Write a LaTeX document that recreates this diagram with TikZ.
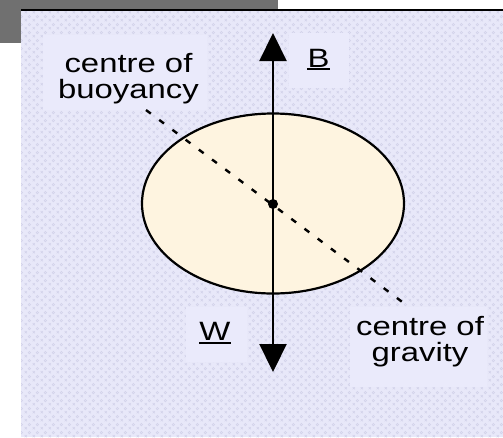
\documentclass[tikz,border=0pt]{standalone}
\usepackage{fontspec}
\setmainfont{Liberation Sans}
\usetikzlibrary{arrows.meta,shapes.geometric,patterns}
\definecolor{barGray}{HTML}{707070}
\definecolor{panelBg}{HTML}{E8E8F9}
\definecolor{panelMark}{HTML}{D3D3EA}
\definecolor{boxBg}{HTML}{EAEAFB}
\definecolor{bodyFill}{HTML}{FEF4E0}
\pgfdeclarepatternformonly{xdiamonds}{\pgfqpoint{0pt}{0pt}}{\pgfqpoint{8pt}{8pt}}{\pgfqpoint{8pt}{8pt}}{%
  \pgfsetlinewidth{0.7pt}%
  \pgfpathmoveto{\pgfqpoint{0.8pt}{0.8pt}}\pgfpathlineto{\pgfqpoint{3.2pt}{3.2pt}}%
  \pgfpathmoveto{\pgfqpoint{0.8pt}{3.2pt}}\pgfpathlineto{\pgfqpoint{3.2pt}{0.8pt}}%
  \pgfpathmoveto{\pgfqpoint{6pt}{4.6pt}}\pgfpathlineto{\pgfqpoint{7.4pt}{6pt}}\pgfpathlineto{\pgfqpoint{6pt}{7.4pt}}\pgfpathlineto{\pgfqpoint{4.6pt}{6pt}}\pgfpathclose%
  \pgfusepath{stroke}%
}
\tikzset{
  lbl/.style={inner sep=0pt, font=\fontsize{26.5}{26}\selectfont, align=center, xscale=1.24, transform shape, text=black},
  forcearrow/.style={line width=2.2pt, -{Triangle[width=27pt,length=28pt]}},
  plainbox/.style={fill=boxBg, draw=none},
}
\begin{document}
\begin{tikzpicture}[x=1pt,y=-1pt]
\useasboundingbox (0,0) rectangle (503,437);
\fill[white] (0,0) rectangle (503,437);
% grey header bar
\fill[barGray] (0,0) rectangle (278,43);
% panel
\fill[panelBg] (21,10) rectangle (503,437);
\fill[pattern=xdiamonds, pattern color=panelMark] (21,10) rectangle (503,437);
\draw[line width=2.2pt] (21,10) -- (503,10);
% label backgrounds
\fill[plainbox] (43,35) rectangle (207,110);
\fill[plainbox] (289,33) rectangle (349,88);
\fill[plainbox] (186,307) rectangle (247,362);
\fill[plainbox] (350,307) rectangle (487,387);
% body
\node[ellipse, draw, line width=2.2pt, fill=bodyFill, minimum width=262pt, minimum height=180pt, inner sep=0pt] (body) at (273,203.5) {};
% centre point
\coordinate (c) at (273,204);
\coordinate (dstart) at (146,110);
\coordinate (dend) at (405,304);
\draw[line width=2.4pt, dash pattern=on 6pt off 10.5pt] (dstart) -- (dend);
\coordinate (Btip) at (273,33);
\coordinate (Wtip) at (273,372);
\draw[forcearrow] (c) -- (Btip);
\draw[forcearrow] (c) -- (Wtip);
\fill (c) circle (5pt);
% labels
\node[lbl, anchor=north] (cob) at (128.5,52.8) {centre of\\buoyancy};
\node[lbl, anchor=north] (cog) at (420,316.5) {centre of\\gravity};
\node[lbl, anchor=base] (B) at (318.5,67) {B};
\node[lbl, anchor=base] (W) at (215,340) {W};
\draw[line width=1.8pt] ([yshift=-2.2pt]B.base west) -- ([yshift=-2.2pt]B.base east);
\draw[line width=1.8pt] ([yshift=-2.6pt]W.base west) -- ([yshift=-2.6pt]W.base east);
\end{tikzpicture}
\end{document}
